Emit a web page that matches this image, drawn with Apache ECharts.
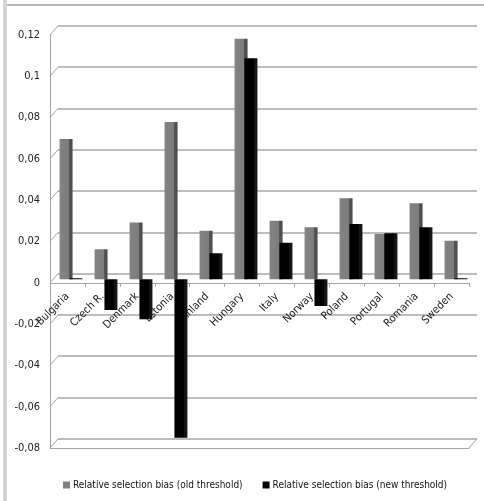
<!DOCTYPE html>
<html><head><meta charset="utf-8">
<script src="https://cdn.jsdelivr.net/npm/echarts@6/dist/echarts.min.js"></script>
<style>html,body{margin:0;padding:0;background:#fff}#c{width:484px;height:501px}</style>
</head><body><div id="c"></div>
<script>
const categories = ['Bulgaria','Czech R.','Denmark','Estonia','Finland','Hungary','Italy','Norway','Poland','Portugal','Romania','Sweden'];
const oldThreshold = [0.068, 0.0145, 0.0275, 0.0762, 0.0235, 0.1165, 0.0284, 0.0252, 0.0392, 0.0219, 0.0368, 0.0187];
const newThreshold = [0.0005, -0.0149, -0.0194, -0.0767, 0.0126, 0.107, 0.0177, -0.0129, 0.0268, 0.0223, 0.0252, 0.0005];
const seriesNames = ['Relative selection bias (old threshold)', 'Relative selection bias (new threshold)'];
const yMin = -0.08, yMax = 0.12, yStep = 0.02;

const FONT = "'Liberation Sans Narrow', 'DejaVu Sans Condensed', sans-serif";
const fmt = v => String(+v.toFixed(2)).replace('.', ',');

const chart = echarts.init(document.getElementById('c'), null, {renderer: 'canvas'});

const grayGrad = new echarts.graphic.LinearGradient(0, 0, 1, 0, [
  {offset: 0, color: '#848484'}, {offset: 0.72, color: '#7c7c7c'},
  {offset: 0.73, color: '#565656'}, {offset: 1, color: '#4a4a4a'}
]);
const blackGrad = new echarts.graphic.LinearGradient(0, 0, 1, 0, [
  {offset: 0, color: '#000'}, {offset: 0.72, color: '#000'},
  {offset: 0.73, color: '#111'}, {offset: 1, color: '#1a1a1a'}
]);

const valAxis = (gi, extra) => Object.assign({
  type: 'value', gridIndex: gi, min: yMin, max: yMax, interval: yStep,
  axisLabel: {show: false}, axisTick: {show: false}, axisLine: {show: false}, splitLine: {show: false}
}, extra || {});
const catAxis = (gi, extra) => Object.assign({
  type: 'category', gridIndex: gi, data: categories,
  axisLabel: {show: false}, axisTick: {show: false}, axisLine: {show: false}
}, extra || {});

// front plane: 0.12 at y=35, -0.08 at y=448
const frontTop = 35, frontH = 413;
const zeroH = frontH * (yMax - 0) / (yMax - yMin);

const option = {
  animation: false,
  textStyle: {fontFamily: FONT},
  grid: [
    {left: 53.5, width: 420, top: 31.5, height: 413},          // bars (mid depth)
    {left: 58, width: 419, top: 25.8, height: 413},            // back wall
    {left: 50, width: 419, top: frontTop, height: frontH},     // front plane
    {left: 50, width: 419, top: frontTop, height: zeroH}       // front plane, positive half (category axis at zero)
  ],
  xAxis: [
    catAxis(0),
    catAxis(1),
    catAxis(2, {axisLine: {show: true, onZero: false, lineStyle: {color: '#a6a6a6', width: 1}}}),
    catAxis(3, {
      position: 'bottom',
      axisLine: {show: true, onZero: false, lineStyle: {color: '#a6a6a6', width: 1}},
      axisTick: {show: true, length: 4, lineStyle: {color: '#a6a6a6'}},
      axisLabel: {show: true, rotate: 45, margin: 12, color: '#222', fontSize: 11, fontFamily: FONT}
    })
  ],
  yAxis: [
    valAxis(0),
    valAxis(1, {splitLine: {show: true, lineStyle: {color: '#a6a6a6', width: 1.5}}}),
    valAxis(2, {
      axisLine: {show: true, lineStyle: {color: '#a6a6a6', width: 1}},
      axisLabel: {show: true, color: '#222', fontSize: 11, fontFamily: FONT, margin: 10, formatter: fmt}
    }),
    {type: 'value', gridIndex: 3, min: 0, max: yMax, show: false}
  ],
  legend: {
    top: 475, left: 58, width: 440, orient: 'horizontal', itemWidth: 7, itemHeight: 7, itemGap: 20, icon: 'rect',
    textStyle: {fontFamily: FONT, fontSize: 10, color: '#111', padding: [0, 0, 0, -2]},
    data: [
      {name: seriesNames[0], itemStyle: {color: '#7f7f7f'}},
      {name: seriesNames[1], itemStyle: {color: '#000'}}
    ]
  },
  series: [
    {name: seriesNames[0], type: 'bar', xAxisIndex: 0, yAxisIndex: 0, data: oldThreshold,
     barWidth: 13, barGap: '-24%', itemStyle: {color: grayGrad}, z: 3},
    {name: seriesNames[1], type: 'bar', xAxisIndex: 0, yAxisIndex: 0, data: newThreshold,
     barWidth: 13, itemStyle: {color: blackGrad}, z: 4}
  ]
};
chart.setOption(option);

// perspective connectors between front axis ticks and back wall lines, plus frame
const gfx = [];
const ticks = [];
for (let v = yMin; v <= yMax + 1e-9; v += yStep) ticks.push(+v.toFixed(2));
ticks.forEach(v => {
  const yf = chart.convertToPixel({yAxisIndex: 2}, v);
  const yb = chart.convertToPixel({yAxisIndex: 1}, v);
  gfx.push({type: 'line', shape: {x1: 50, y1: yf, x2: 58, y2: yb}, style: {stroke: '#a6a6a6', lineWidth: 1}, silent: true});
});
const yfMin = chart.convertToPixel({yAxisIndex: 2}, yMin);
const ybMin = chart.convertToPixel({yAxisIndex: 1}, yMin);
gfx.push({type: 'line', shape: {x1: 469, y1: yfMin, x2: 477, y2: ybMin}, style: {stroke: '#a6a6a6', lineWidth: 1}, silent: true});
gfx.push({type: 'rect', shape: {x: 3, y: 0, width: 4, height: 501}, style: {fill: '#d4d4d4'}, silent: true});
gfx.push({type: 'line', shape: {x1: 7, y1: 5, x2: 484, y2: 5}, style: {stroke: '#a0a0a0', lineWidth: 1.5}, silent: true});
chart.setOption({graphic: gfx});
</script>
</body></html>
